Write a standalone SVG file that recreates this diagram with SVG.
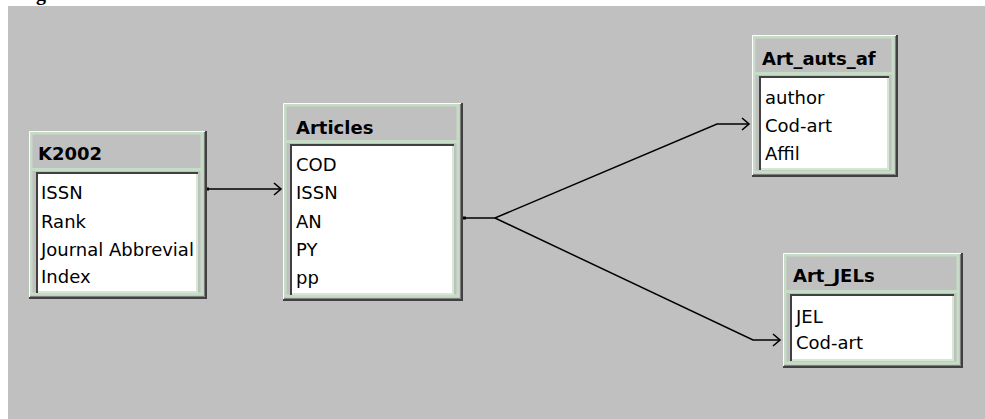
<svg xmlns="http://www.w3.org/2000/svg" width="985" height="419" viewBox="0 0 985 419">
<style>
.panel{fill:#c0c0c0}
.hl{fill:none;stroke:#ffffff;stroke-width:1}
.frame{fill:none;stroke:#c6dcc6;stroke-width:3}
.sh1{fill:none;stroke:#808080;stroke-width:1}
.sh2{fill:none;stroke:#404040;stroke-width:2}
.list{fill:#ffffff}
.sunk{fill:none;stroke:#404040;stroke-width:2}
.sunk2{fill:none;stroke:#808080;stroke-width:1}
.lite{fill:none;stroke:#d4e8d4;stroke-width:2}
.title{font-family:"DejaVu Sans",sans-serif;font-weight:bold;font-size:18px;fill:#000}
.fld{font-family:"DejaVu Sans",sans-serif;font-size:18px;fill:#000}
.ln{fill:none;stroke:#000;stroke-width:1.5}
.dot{fill:#000}
</style>
<defs>
<marker id="arr" markerWidth="12" markerHeight="14" refX="10" refY="7" orient="auto" markerUnits="userSpaceOnUse">
<path d="M3,1 L10,7 L3,13" fill="none" stroke="#000" stroke-width="1.6"/>
</marker>
</defs>
<rect x="0" y="0" width="985" height="419" fill="#ffffff"/>
<rect x="8" y="6" width="977" height="413" fill="#c0c0c0"/>
<text x="36" y="0" font-family="Liberation Serif, serif" font-weight="bold" font-size="20" fill="#000">g</text>

<g id="connectors">
<path class="ln" d="M208,189 H281" marker-end="url(#arr)"/>
<rect class="dot" x="206" y="187.5" width="3" height="3"/>
<path class="ln" d="M465,218 H495 L717,124 H749" marker-end="url(#arr)"/>
<path class="ln" d="M495,218 L753,340 H780" marker-end="url(#arr)"/>
<rect class="dot" x="463" y="216.5" width="3" height="3"/>
</g>

<g id="K2002">
<rect class="panel" x="29" y="131" width="176" height="166"/>
<rect class="frame" x="31" y="133" width="171" height="161"/>
<path class="hl" d="M29.5,297 V131.5 H205"/>
<path class="sh1" d="M204.5,132 V296.5 H30"/>
<path class="sh2" d="M206,131 V298 H29"/>
<line x1="32" y1="169.5" x2="202" y2="169.5" stroke="#c6dcc6" stroke-width="3"/>
<rect class="list" x="36" y="172" width="162" height="121"/>
<path class="lite" d="M36,292 H197 V172"/>
<path class="sunk" d="M37,293 V173 H198"/>
<text class="title" x="38" y="160">K2002</text>
<text class="fld" x="41" y="199">ISSN</text>
<text class="fld" x="41" y="228">Rank</text>
<text class="fld" x="41" y="256">Journal Abbrevial</text>
<text class="fld" x="41" y="283">Index</text>
</g>

<g id="Articles">
<rect class="panel" x="283" y="103" width="178" height="196"/>
<rect class="frame" x="285" y="105" width="173" height="191"/>
<path class="hl" d="M283.5,299 V103.5 H461"/>
<path class="sh1" d="M460.5,104 V298.5 H284"/>
<path class="sh2" d="M462,103 V300 H283"/>
<line x1="286" y1="141.5" x2="458" y2="141.5" stroke="#c6dcc6" stroke-width="3"/>
<rect class="list" x="290" y="144" width="164" height="151"/>
<path class="lite" d="M290,294 H453 V144"/>
<path class="sunk" d="M291,295 V145 H454"/>
<text class="title" x="296" y="134">Articles</text>
<text class="fld" x="296" y="171">COD</text>
<text class="fld" x="296" y="199">ISSN</text>
<text class="fld" x="296" y="228">AN</text>
<text class="fld" x="296" y="256">PY</text>
<text class="fld" x="296" y="284">pp</text>
</g>

<g id="Art_auts_af">
<rect class="panel" x="752" y="35" width="144" height="140"/>
<rect class="frame" x="754" y="37" width="139" height="135"/>
<path class="hl" d="M752.5,175 V35.5 H896"/>
<path class="sh1" d="M895.5,36 V174.5 H753"/>
<path class="sh2" d="M897,35 V176 H752"/>
<line x1="755" y1="73.5" x2="893" y2="73.5" stroke="#c6dcc6" stroke-width="3"/>
<rect class="list" x="759" y="76" width="130" height="94"/>
<path class="lite" d="M759,169 H888 V76"/>
<path class="sunk" d="M760,170 V77 H889"/>
<text class="title" x="762" y="65">Art_auts_af</text>
<text class="fld" x="765" y="104">author</text>
<text class="fld" x="765" y="132">Cod-art</text>
<text class="fld" x="765" y="160">Affil</text>
</g>

<g id="Art_JELs">
<rect class="panel" x="783" y="253" width="178" height="113"/>
<rect class="frame" x="785" y="255" width="173" height="108"/>
<path class="hl" d="M783.5,366 V253.5 H961"/>
<path class="sh1" d="M960.5,254 V365.5 H784"/>
<path class="sh2" d="M962,253 V367 H783"/>
<line x1="786" y1="291.5" x2="958" y2="291.5" stroke="#c6dcc6" stroke-width="3"/>
<rect class="list" x="790" y="294" width="164" height="67"/>
<path class="lite" d="M790,360 H953 V294"/>
<path class="sunk" d="M791,361 V295 H954"/>
<text class="title" x="793" y="282">Art_JELs</text>
<text class="fld" x="796" y="323">JEL</text>
<text class="fld" x="796" y="349">Cod-art</text>
</g>
</svg>
